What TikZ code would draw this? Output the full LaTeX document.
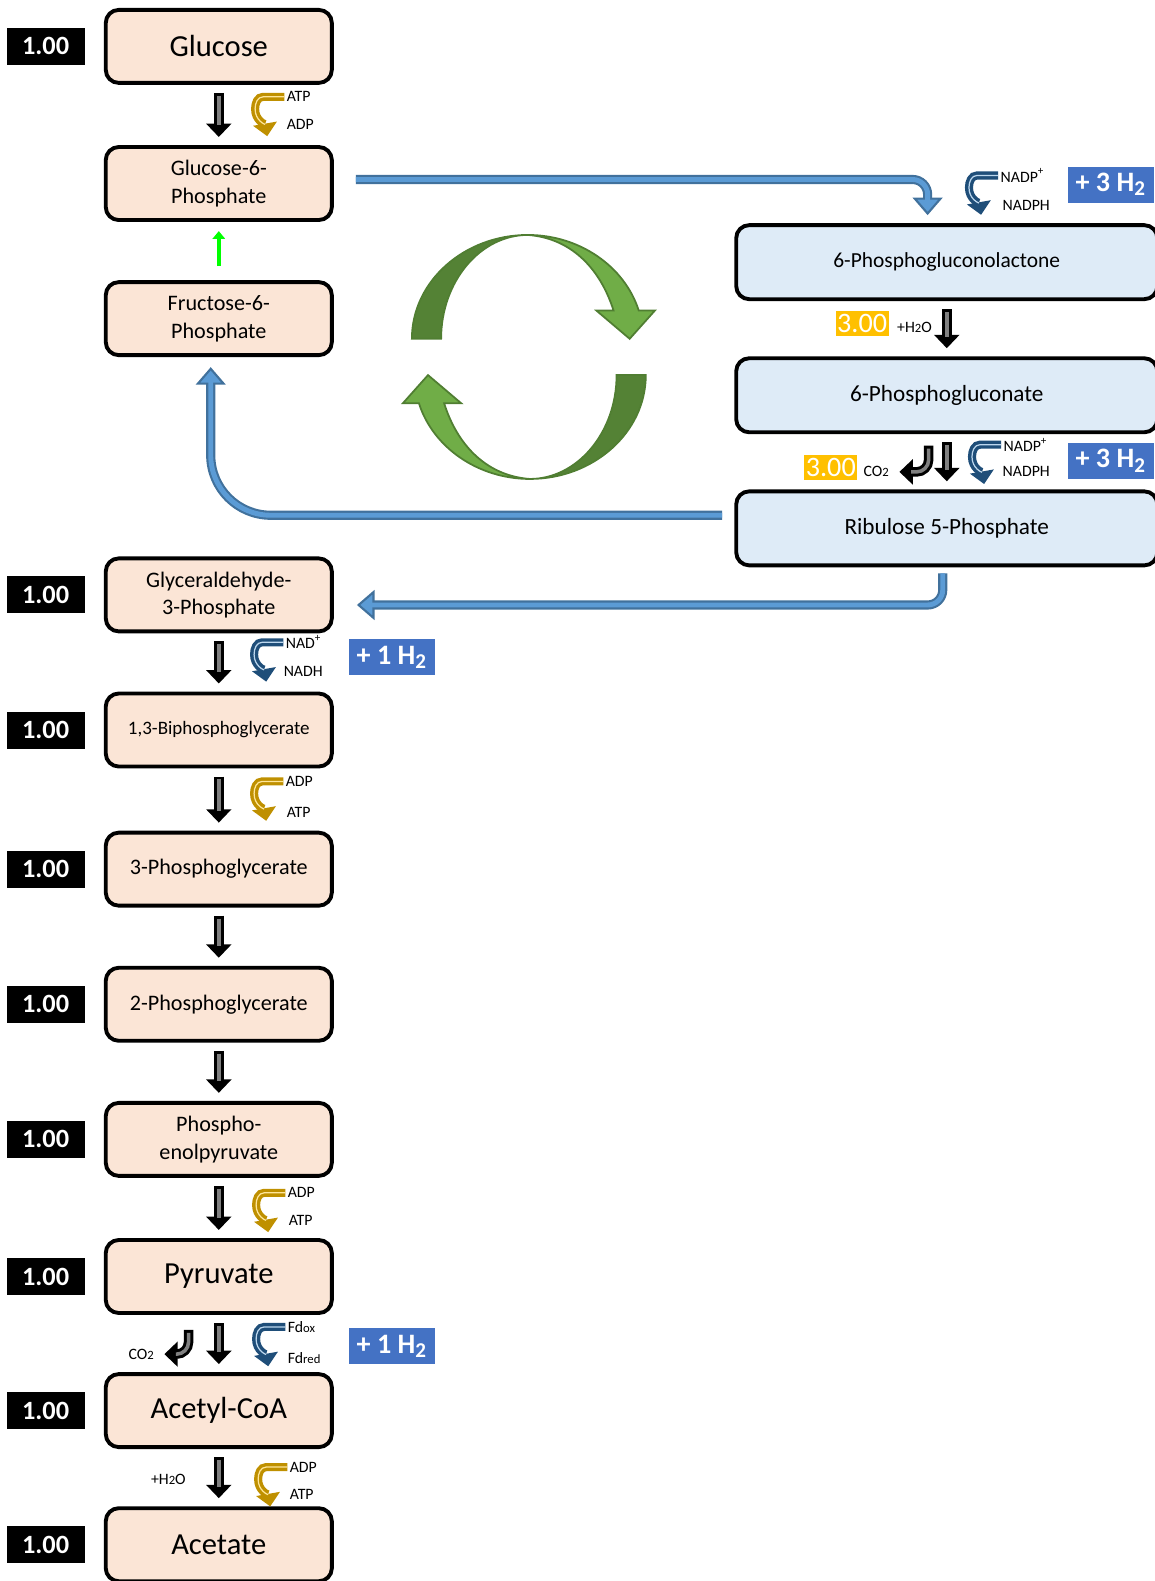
\documentclass[tikz,border=0pt]{standalone}
\usepackage{fontspec}
\setmainfont{Carlito}
\usetikzlibrary{arrows.meta,positioning}

\definecolor{peach}{HTML}{FBE5D6}
\definecolor{paleblue}{HTML}{DEEBF7}
\definecolor{hblue}{HTML}{4472C4}
\definecolor{amber}{HTML}{FFC000}
\definecolor{pathblue}{HTML}{5B9BD5}
\definecolor{pathedge}{HTML}{41719C}
\definecolor{golddk}{HTML}{BF9000}
\definecolor{goldlt}{HTML}{FFE699}
\definecolor{navy}{HTML}{1F4E79}
\definecolor{navylt}{HTML}{BDD7EE}
\definecolor{leafdk}{HTML}{548235}
\definecolor{leaflt}{HTML}{70AD47}
\definecolor{leafedge}{HTML}{507E32}

\begin{document}
\begin{tikzpicture}[
    x=0.1008mm, y=0.1008mm,
    box/.style={draw, line width=1.1pt, rounded corners=1.3mm, fill=peach, minimum width=22.6mm, minimum height=7.3mm, align=center, inner sep=1pt, font=\fontsize{6.3}{7.8}\selectfont},
    bigbox/.style={box, font=\fontsize{8.7}{10}\selectfont},
    rbox/.style={box, fill=paleblue, minimum width=42.1mm, minimum height=7.4mm, font=\fontsize{6.6}{8}\selectfont},
    tag/.style={fill=black, text=white, font=\bfseries\fontsize{7.5}{9}\selectfont, minimum width=7.8mm, minimum height=3.7mm, inner sep=0pt, left=1.85mm of #1},
    hbox/.style={fill=hblue, text=white, font=\bfseries\fontsize{8}{9}\selectfont, minimum width=8.6mm, minimum height=3.6mm, inner sep=0pt},
    val/.style={fill=amber, text=white, font=\fontsize{8}{9}\selectfont, minimum width=5.3mm, minimum height=2.5mm, inner sep=0pt},
    co/.style={font=\fontsize{4.5}{5}\selectfont, inner sep=0.5pt},
    rxn/.style={-{Triangle[width=7pt,length=3.8pt]}, line width=2.7pt, shorten <=2.3pt, shorten >=2.3pt,
        postaction={draw=black!50, line width=1pt, -, shorten <=3.1pt, shorten >=5.6pt}},
    flow/.style={-{Triangle[width=8.5pt,length=5pt,line width=0.6pt,fill=pathblue]}, draw=pathedge, line width=2.6pt,
        postaction={draw=pathblue, line width=1.4pt, -, shorten >=4.2pt}},
    upflow/.style={-{Triangle[width=3.5pt,length=2.2pt]}, draw=green, line width=1.2pt, shorten <=4pt, shorten >=2.6pt},
    cyc/.style 2 args={-{Triangle[width=6.8pt,length=3.6pt,line width=0.5pt,fill=#1]}, draw=#1, line width=2.3pt,
        postaction={draw=#2, line width=0.35pt, -, shorten >=3.4pt}},
    cycpath/.style={insert path={-- ++(-21,0) to[out=180,in=90] ++(-8,-12) to[out=-90,in=100] ++(12,-27)}},
    leaf/.style={fill=#1, draw=leafedge, line width=0.5pt}
]
    \useasboundingbox (0,0) rectangle (1145,-1568);

    % Glycolysis column
    \node[bigbox] (glc) at (217,-46) {Glucose};
    \node[box] (g6p) at (217,-182) {Glucose-6-\\Phosphate};
    \node[box] (f6p) at (217,-316) {Fructose-6-\\Phosphate};
    \node[box] (ga3p) at (217,-590) {Glyceraldehyde-\\3-Phosphate};
    \node[box, font=\fontsize{5.4}{6.5}\selectfont] (bpg) at (217,-724) {1,3-Biphosphoglycerate};
    \node[box] (pg3) at (217,-862) {3-Phosphoglycerate};
    \node[box] (pg2) at (217,-996) {2-Phosphoglycerate};
    \node[box] (pep) at (217,-1130) {Phospho-\\enolpyruvate};
    \node[bigbox] (pyr) at (217,-1266) {Pyruvate};
    \node[bigbox] (accoa) at (217,-1399) {Acetyl-CoA};
    \node[bigbox] (ace) at (217,-1532) {Acetate};

    % Pentose phosphate column
    \node[rbox, font=\fontsize{6.1}{7.5}\selectfont] (pgl) at (939,-260) {6-Phosphogluconolactone};
    \node[rbox] (pgc) at (939,-392) {6-Phosphogluconate};
    \node[rbox] (ru5p) at (939,-524) {Ribulose 5-Phosphate};

    % Yields
    \node[tag=glc] (yglc) {1.00};
    \node[tag=ga3p] (yga3p) {1.00};
    \node[tag=bpg] (ybpg) {1.00};
    \node[tag=pg3] (ypg3) {1.00};
    \node[tag=pg2] (ypg2) {1.00};
    \node[tag=pep] (ypep) {1.00};
    \node[tag=pyr] (ypyr) {1.00};
    \node[tag=accoa] (yaccoa) {1.00};
    \node[tag=ace] (yace) {1.00};
    \node[val] (vpgl) at (855,-321) {3.00};
    \node[val] (vpgc) at (824,-464) {3.00};

    % Hydrogen
    \node[hbox] (h1) at (1102,-183) {+ 3 H\textsubscript{2}};
    \node[hbox] (h2) at (1102,-457) {+ 3 H\textsubscript{2}};
    \node[hbox] (h3) at (389,-652) {+ 1 H\textsubscript{2}};
    \node[hbox] (h4) at (389,-1335) {+ 1 H\textsubscript{2}};

    % Reactions
    \draw[rxn] (glc) -- (g6p);
    \draw[upflow] (f6p) -- (g6p);
    \draw[rxn] (ga3p) -- (bpg);
    \draw[rxn] (bpg) -- (pg3);
    \draw[rxn] (pg3) -- (pg2);
    \draw[rxn] (pg2) -- (pep);
    \draw[rxn] (pep) -- (pyr);
    \draw[rxn] (pyr) -- (accoa);
    \draw[rxn] (accoa) -- (ace);
    \draw[rxn] (pgl) -- (pgc);
    \draw[rxn] (pgc) -- (ru5p);

    % Carbon flow between pathways
    \draw[flow, rounded corners=1.5mm] ([shift={(22,4)}]g6p.east) -| ([shift={(-19,8)}]pgl.north);
    \draw[flow, rounded corners=6mm] ([shift={(-12,13)}]ru5p.west) -| ([shift={(-8,-10)}]f6p.south);
    \draw[flow, rounded corners=1.5mm] ([shift={(-4,-6)}]ru5p.south) |- ([shift={(23,-10)}]ga3p.east);

    % Cofactors
    \node[co, anchor=west] (atp1) at (282,-96) {ATP};
    \node[co, anchor=west] (adp1) at (282,-123) {ADP};
    \draw[cyc={golddk}{goldlt}] (atp1.west) [cycpath];

    \node[co, anchor=west] (nadp1) at (990,-174) {NADP\textsuperscript{+}};
    \node[co, anchor=west] (nadph1) at (992,-204) {NADPH};
    \draw[cyc={navy}{navylt}] (nadp1.west) [cycpath];

    \node[co, anchor=west] (nadp2) at (993,-441) {NADP\textsuperscript{+}};
    \node[co, anchor=west] (nadph2) at (992,-468) {NADPH};
    \draw[cyc={navy}{navylt}] (nadp2.west) [cycpath];

    \node[co, anchor=west] (nad) at (281,-637) {NAD\textsuperscript{+}};
    \node[co, anchor=west] (nadh) at (279,-666) {NADH};
    \draw[cyc={navy}{navylt}] (nad.west) [cycpath];

    \node[co, anchor=west] (adp2) at (281,-775) {ADP};
    \node[co, anchor=west] (atp2) at (282,-806) {ATP};
    \draw[cyc={golddk}{goldlt}] (adp2.west) [cycpath];

    \node[co, anchor=west] (adp3) at (283,-1183) {ADP};
    \node[co, anchor=west] (atp3) at (284,-1210) {ATP};
    \draw[cyc={golddk}{goldlt}] (adp3.west) [cycpath];

    \node[co, anchor=west] (fdox) at (283,-1316) {Fd{\fontsize{3.6}{4}\selectfont ox}};
    \node[co, anchor=west] (fdred) at (283,-1347) {Fd{\fontsize{3.6}{4}\selectfont red}};
    \draw[cyc={navy}{navylt}] (fdox.west) [cycpath];

    \node[co, anchor=west] (adp4) at (285,-1455) {ADP};
    \node[co, anchor=west] (atp4) at (285,-1482) {ATP};
    \draw[cyc={golddk}{goldlt}] (adp4.west) [cycpath];

    % Side products
    \node[co] (wat1) at (907,-325) {+H{\fontsize{3.6}{4}\selectfont 2}O};
    \node[co] (wat2) at (167,-1467) {+H{\fontsize{3.6}{4}\selectfont 2}O};
    \node[co, anchor=east] (co2a) at (884,-468) {CO{\fontsize{3.6}{4}\selectfont 2}};
    \node[co, anchor=east] (co2b) at (155,-1343) {CO{\fontsize{3.6}{4}\selectfont 2}};
    \coordinate (hk1) at (921,-434);
    \coordinate (hk2) at (187,-1311);
    \draw[rxn, rounded corners=1.2mm] (hk1) |- (co2a);
    \draw[rxn, rounded corners=1.2mm] (hk2) |- (co2b);

    % Cycle symbol
    \foreach \r in {0,180}{
        \begin{scope}[shift={(524.5,-354)}, rotate=\r]
            \path[leaf=leafdk] (-116,18) .. controls (-116,75) and (-64,121) .. (-1,121)
                .. controls (-48,121) and (-87,75) .. (-87,18) -- cycle;
            \path[leaf=leaflt] (-1,121) .. controls (50,121) and (95,90) .. (109,46) -- (125,46) -- (100,18)
                -- (67,46) -- (84,46) .. controls (70,90) and (40,118) .. (-1,121) -- cycle;
        \end{scope}
    }
\end{tikzpicture}
\end{document}
